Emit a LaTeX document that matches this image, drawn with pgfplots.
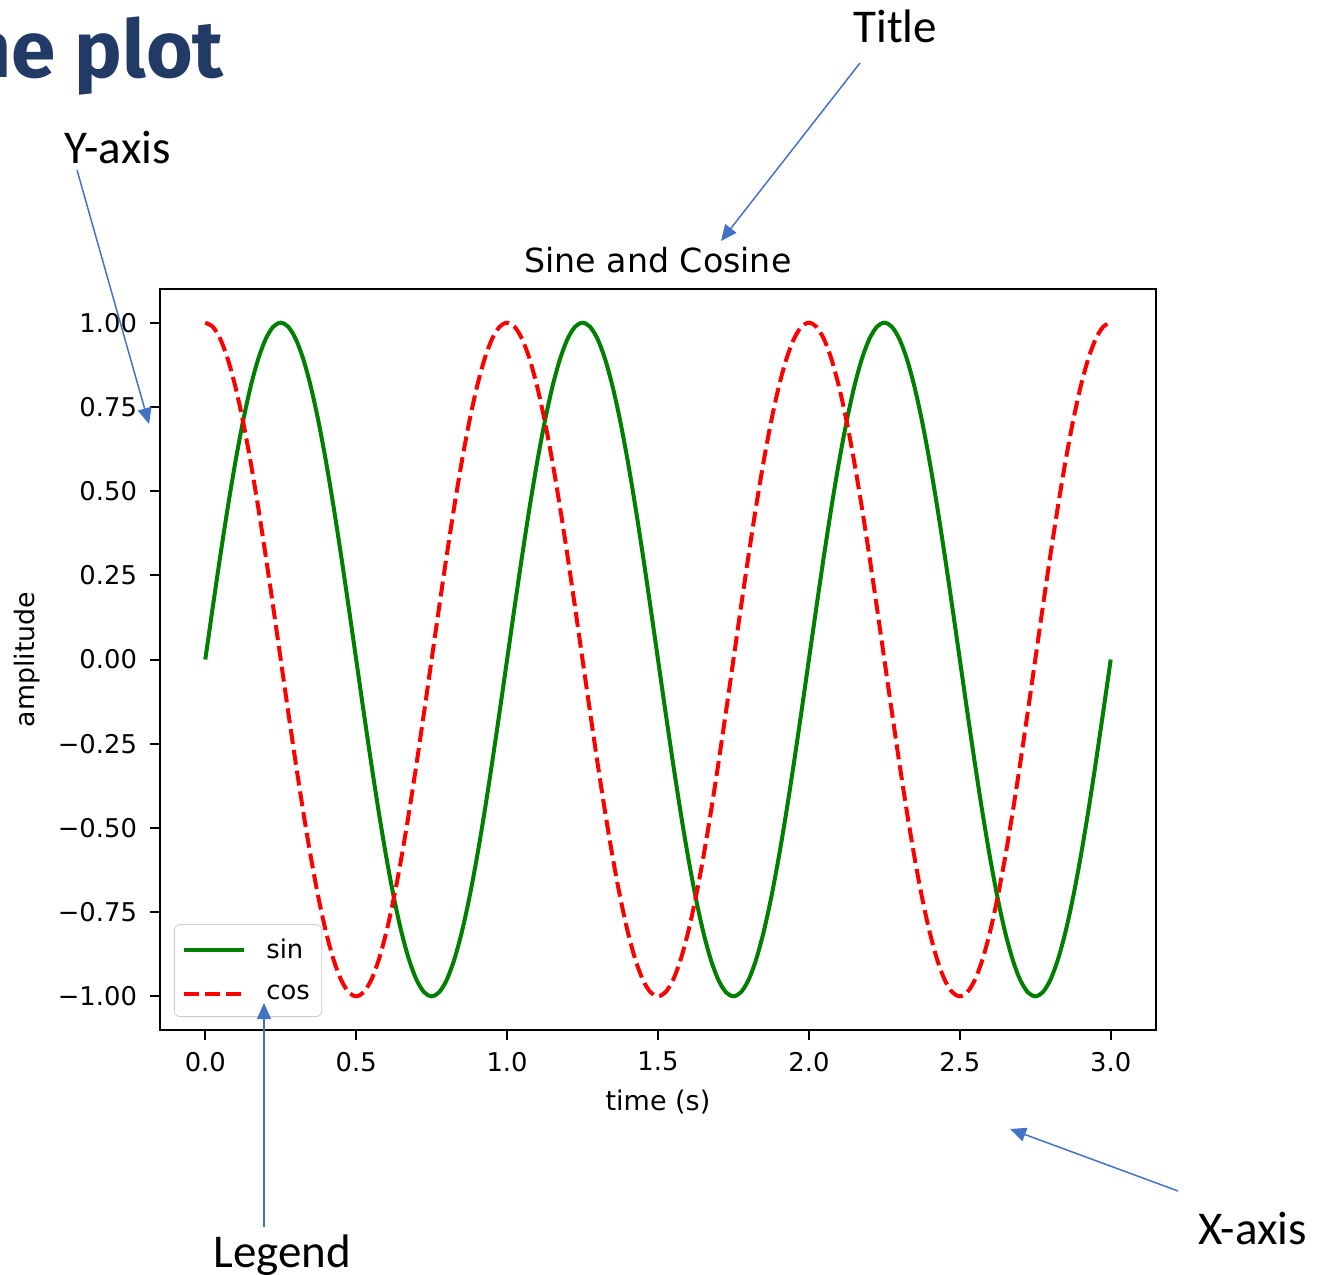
\documentclass[border=0pt]{standalone}
\usepackage{fontspec}
\setmainfont{DejaVu Sans}
\newfontfamily\calibri{Carlito}
\newfontfamily\headfont{Fira Sans}
\usepackage{pgfplots}
\pgfplotsset{compat=1.18}
\usepackage{pgfplotstable}
\usetikzlibrary{arrows.meta}

\definecolor{mplgreen}{HTML}{008000}
\definecolor{mplred}{HTML}{FF0000}
\definecolor{callout}{HTML}{4472C4}
\definecolor{navy}{HTML}{223A66}

% one row per 0.025 s: time, sin(2 pi t), cos(2 pi t)
\pgfplotstableread{
t sin cos
0.000 0.0000 1.0000
0.025 0.1564 0.9877
0.050 0.3090 0.9511
0.075 0.4540 0.8910
0.100 0.5878 0.8090
0.125 0.7071 0.7071
0.150 0.8090 0.5878
0.175 0.8910 0.4540
0.200 0.9511 0.3090
0.225 0.9877 0.1564
0.250 1.0000 0.0000
0.275 0.9877 -0.1564
0.300 0.9511 -0.3090
0.325 0.8910 -0.4540
0.350 0.8090 -0.5878
0.375 0.7071 -0.7071
0.400 0.5878 -0.8090
0.425 0.4540 -0.8910
0.450 0.3090 -0.9511
0.475 0.1564 -0.9877
0.500 0.0000 -1.0000
0.525 -0.1564 -0.9877
0.550 -0.3090 -0.9511
0.575 -0.4540 -0.8910
0.600 -0.5878 -0.8090
0.625 -0.7071 -0.7071
0.650 -0.8090 -0.5878
0.675 -0.8910 -0.4540
0.700 -0.9511 -0.3090
0.725 -0.9877 -0.1564
0.750 -1.0000 0.0000
0.775 -0.9877 0.1564
0.800 -0.9511 0.3090
0.825 -0.8910 0.4540
0.850 -0.8090 0.5878
0.875 -0.7071 0.7071
0.900 -0.5878 0.8090
0.925 -0.4540 0.8910
0.950 -0.3090 0.9511
0.975 -0.1564 0.9877
1.000 0.0000 1.0000
1.025 0.1564 0.9877
1.050 0.3090 0.9511
1.075 0.4540 0.8910
1.100 0.5878 0.8090
1.125 0.7071 0.7071
1.150 0.8090 0.5878
1.175 0.8910 0.4540
1.200 0.9511 0.3090
1.225 0.9877 0.1564
1.250 1.0000 0.0000
1.275 0.9877 -0.1564
1.300 0.9511 -0.3090
1.325 0.8910 -0.4540
1.350 0.8090 -0.5878
1.375 0.7071 -0.7071
1.400 0.5878 -0.8090
1.425 0.4540 -0.8910
1.450 0.3090 -0.9511
1.475 0.1564 -0.9877
1.500 0.0000 -1.0000
1.525 -0.1564 -0.9877
1.550 -0.3090 -0.9511
1.575 -0.4540 -0.8910
1.600 -0.5878 -0.8090
1.625 -0.7071 -0.7071
1.650 -0.8090 -0.5878
1.675 -0.8910 -0.4540
1.700 -0.9511 -0.3090
1.725 -0.9877 -0.1564
1.750 -1.0000 0.0000
1.775 -0.9877 0.1564
1.800 -0.9511 0.3090
1.825 -0.8910 0.4540
1.850 -0.8090 0.5878
1.875 -0.7071 0.7071
1.900 -0.5878 0.8090
1.925 -0.4540 0.8910
1.950 -0.3090 0.9511
1.975 -0.1564 0.9877
2.000 0.0000 1.0000
2.025 0.1564 0.9877
2.050 0.3090 0.9511
2.075 0.4540 0.8910
2.100 0.5878 0.8090
2.125 0.7071 0.7071
2.150 0.8090 0.5878
2.175 0.8910 0.4540
2.200 0.9511 0.3090
2.225 0.9877 0.1564
2.250 1.0000 0.0000
2.275 0.9877 -0.1564
2.300 0.9511 -0.3090
2.325 0.8910 -0.4540
2.350 0.8090 -0.5878
2.375 0.7071 -0.7071
2.400 0.5878 -0.8090
2.425 0.4540 -0.8910
2.450 0.3090 -0.9511
2.475 0.1564 -0.9877
2.500 0.0000 -1.0000
2.525 -0.1564 -0.9877
2.550 -0.3090 -0.9511
2.575 -0.4540 -0.8910
2.600 -0.5878 -0.8090
2.625 -0.7071 -0.7071
2.650 -0.8090 -0.5878
2.675 -0.8910 -0.4540
2.700 -0.9511 -0.3090
2.725 -0.9877 -0.1564
2.750 -1.0000 0.0000
2.775 -0.9877 0.1564
2.800 -0.9511 0.3090
2.825 -0.8910 0.4540
2.850 -0.8090 0.5878
2.875 -0.7071 0.7071
2.900 -0.5878 0.8090
2.925 -0.4540 0.8910
2.950 -0.3090 0.9511
2.975 -0.1564 0.9877
3.000 0.0000 1.0000
}\waves

\begin{document}
\begin{tikzpicture}[x=0.5pt,y=-0.5pt]
\useasboundingbox (0,0) rectangle (1324,1275);
\clip (0,0) rectangle (1324,1275);

% slide heading, running off the left edge
\node[anchor=base east, inner sep=0, text=navy,
      font=\headfont\bfseries\fontsize{40}{48}\selectfont] at (224,77) {Line plot};

\begin{axis}[
  at={(80pt,-515pt)}, anchor=south west,
  scale only axis, width=498pt, height=370.5pt,
  xmin=-0.15, xmax=3.15, ymin=-1.1, ymax=1.1,
  axis line style={black, line width=1pt},
  tick align=outside, xtick pos=lower, ytick pos=left,
  major tick length=5pt,
  every tick/.style={black, line width=1pt},
  xtick={0,0.5,1,1.5,2,2.5,3},
  xticklabels={0.0,0.5,1.0,1.5,2.0,2.5,3.0},
  ytick={-1,-0.75,-0.5,-0.25,0,0.25,0.5,0.75,1},
  yticklabels={−1.00,−0.75,−0.50,−0.25,0.00,0.25,0.50,0.75,1.00},
  tick label style={font=\fontsize{12.9}{15}\selectfont},
  xticklabel style={yshift=-2.5pt},
  yticklabel style={xshift=-3pt},
  title={Sine and Cosine},
  title style={at={(0.5,1.0067)}, anchor=base, inner sep=0,
               font=\fontsize{16.6}{20}\selectfont},
  xlabel={time (s)},
  xlabel style={at={(0.5,-0.109)}, anchor=base, inner sep=0,
                font=\fontsize{13.5}{16}\selectfont},
  ylabel={amplitude},
  ylabel style={at={(-0.1255,0.5)}, anchor=base, rotate=0, inner sep=0,
                font=\fontsize{13.4}{16}\selectfont},
  legend style={at={(0.014,0.0175)}, anchor=south west,
                draw=black!20, rounded corners=3pt, fill=white,
                font=\fontsize{12.9}{15}\selectfont,
                row sep=8pt, inner xsep=4pt, inner ysep=5pt,
                /tikz/every odd column/.style={column sep=8pt}},
  legend cell align=left,
  legend image code/.code={\draw[#1] (0pt,0pt) -- (30pt,0pt);},
]
\addplot[mplgreen, line width=2pt, smooth] table[x=t, y=sin] {\waves};
\addlegendentry{sin}
\addplot[mplred, line width=2pt, smooth, dash pattern=on 7.5pt off 3pt] table[x=t, y=cos] {\waves};
\addlegendentry{cos}
\end{axis}

% callouts
\begin{scope}[callout, line width=0.75pt, -{Triangle[length=8pt,width=7pt]}]
  \draw (860,63) -- (721,241);
  \draw (77,170) -- (149,424);
  \draw (264,1227) -- (264,1003);
  \draw (1178,1191) -- (1010,1129);
\end{scope}
\begin{scope}[every node/.style={anchor=base west, inner sep=0,
              font=\calibri\fontsize{23.5}{28}\selectfont}]
  \node at (853,42) {Title};
  \node at (64,163) {Y-axis};
  \node at (213,1267) {Legend};
  \node at (1198,1244) {X-axis};
\end{scope}
\end{tikzpicture}
\end{document}
